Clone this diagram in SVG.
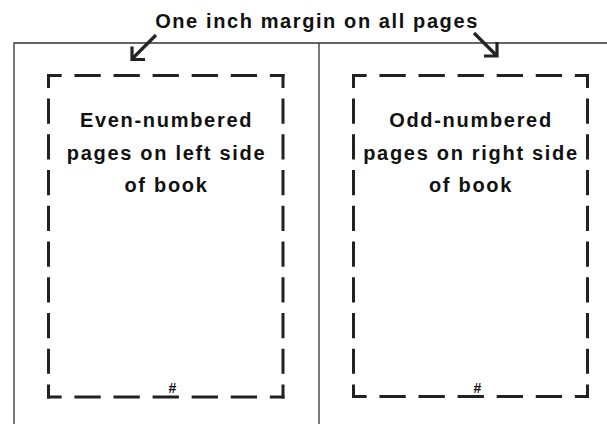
<svg xmlns="http://www.w3.org/2000/svg" width="607" height="424" viewBox="0 0 607 424">
<style>
.frame{stroke:#333;stroke-width:1.3;fill:none}
.h{stroke:#222;stroke-width:3;fill:none;stroke-dasharray:26.3 12.78;stroke-dashoffset:11.65}
.v{stroke:#222;stroke-width:3;fill:none;stroke-dasharray:25.2 10.52;stroke-dashoffset:11.1}
.arr{stroke:#222;stroke-width:3.2;fill:none;stroke-linejoin:miter}
.t{font-family:"Liberation Sans",Arial,sans-serif;font-weight:bold;fill:#111;text-anchor:middle}
.title{font-size:20px;letter-spacing:1.6px}
.body{font-size:20px;letter-spacing:1.7px}
.num{font-size:14px}
</style>
<rect width="607" height="424" fill="#fff"/>
<g id="frame">
<path class="frame" d="M14,424 V43 H607 M319,43 V424"/>
</g>
<g id="title">
<text class="t title" x="317" y="28">One inch margin on all pages</text>
</g>
<g id="connectors">
<line class="arr" x1="156" y1="35" x2="133" y2="58"/>
<polyline class="arr" points="132,46.5 132,59.5 145,59.5"/>
<line class="arr" x1="474" y1="33" x2="496" y2="55"/>
<polyline class="arr" points="484,56 497,56 497,42"/>
</g>
<g id="left-page">
<line class="h" x1="47" y1="75.5" x2="284.5" y2="75.5"/>
<line class="h" x1="47" y1="397" x2="284.5" y2="397"/>
<line class="v" x1="48.5" y1="74" x2="48.5" y2="398.5"/>
<line class="v" x1="283" y1="74" x2="283" y2="398.5"/>
<text class="t body" x="166.5" y="127">Even-numbered</text>
<text class="t body" x="166.5" y="160">pages on left side</text>
<text class="t body" x="166.5" y="192">of book</text>
<text class="t num" x="172.5" y="393">#</text>
</g>
<g id="right-page">
<line class="h" x1="352" y1="75.5" x2="589" y2="75.5"/>
<line class="h" x1="352" y1="396.5" x2="589" y2="396.5"/>
<line class="v" x1="353.5" y1="74" x2="353.5" y2="398"/>
<line class="v" x1="587.5" y1="74" x2="587.5" y2="398"/>
<text class="t body" x="471" y="127">Odd-numbered</text>
<text class="t body" x="471" y="160">pages on right side</text>
<text class="t body" x="471" y="192">of book</text>
<text class="t num" x="477.5" y="393">#</text>
</g>
</svg>
